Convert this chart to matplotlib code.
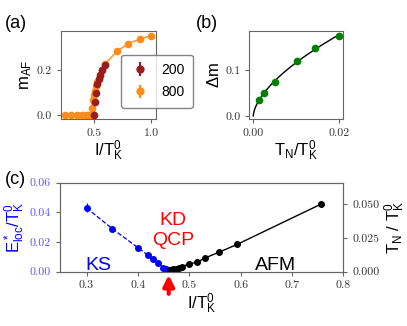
import numpy as np
import matplotlib
matplotlib.use("Agg")
import matplotlib.pyplot as plt

plt.rcParams['font.family'] = ['Liberation Sans', 'DejaVu Sans']
plt.rcParams['mathtext.fontset'] = 'custom'
plt.rcParams['mathtext.rm'] = 'Liberation Sans'
plt.rcParams['mathtext.it'] = 'Liberation Sans:italic'
plt.rcParams['mathtext.bf'] = 'Liberation Sans:bold'
plt.rcParams['axes.formatter.use_mathtext'] = True

# panel (a): order parameter vs I/TK0 for two sizes
a_x_200 = [0.505, 0.51, 0.515, 0.53, 0.545, 0.555, 0.57, 0.60]
a_y_200 = [0.0, 0.06, 0.10, 0.14, 0.16, 0.18, 0.20, 0.225]
a_x_800 = [0.25, 0.30, 0.35, 0.40, 0.43, 0.45, 0.47, 0.48, 0.49, 0.50,
           0.51, 0.52, 0.53, 0.55, 0.57, 0.60, 0.70, 0.80, 0.90, 1.00]
a_y_800 = [0.0, 0.0, 0.0, 0.0, 0.0, 0.0, 0.002, 0.035, 0.068, 0.09,
           0.11, 0.13, 0.15, 0.175, 0.20, 0.23, 0.285, 0.32, 0.34, 0.355]

# panel (b): jump of m vs TN/TK0
b_tn = [0.00133, 0.00256, 0.00505, 0.0101, 0.01435, 0.020]
b_dm = [0.035, 0.051, 0.075, 0.121, 0.149, 0.175]

# panel (c): Eloc* (left, KS side) and TN (right, AFM side)
c_x_ks = [0.30, 0.35, 0.40, 0.42, 0.43, 0.44, 0.449, 0.455, 0.46]
c_e_ks = [0.043, 0.029, 0.0162, 0.011, 0.0084, 0.0057, 0.0027, 0.0016, 0.001]
c_e_err = [0.003, 0, 0, 0, 0, 0, 0, 0, 0]
c_x_afm = [0.462, 0.468, 0.475, 0.481, 0.486, 0.499, 0.515, 0.531, 0.557, 0.593, 0.756]
c_tn_afm = [0.0013, 0.0018, 0.002, 0.003, 0.0037, 0.0057, 0.007, 0.0102, 0.0143, 0.0202, 0.050]
qcp_x = 0.46

tick_font = 'cmr10'
frame_col = '#666666'
col200 = '#9b1c1c'
col800 = '#ff8c1a'


def style(ax):
    for s in ax.spines.values():
        s.set_color(frame_col)
    ax.tick_params(colors=frame_col, labelsize=8.5, length=3, width=0.8)
    for lab in ax.get_xticklabels() + ax.get_yticklabels():
        lab.set_fontfamily(tick_font)
        lab.set_color('#333333')


fig = plt.figure(figsize=(4.07, 3.26), dpi=100)

# ---- (a)
ax1 = fig.add_axes([0.150, 0.635, 0.233, 0.270])
ax1.plot(a_x_800, a_y_800, color=col800, lw=1, zorder=1)
ax1.plot(a_x_200, a_y_200, color=col200, lw=1, zorder=2)
ax1.errorbar(a_x_200, a_y_200, yerr=0.005, color=col200, marker='o', ms=4.5,
             ls='none', label='200', zorder=3)
ax1.errorbar(a_x_800, a_y_800, yerr=0.004, color=col800, marker='o', ms=4.5,
             ls='none', label='800', zorder=2)
ax1.set_xlim(0.215, 1.04)
ax1.set_ylim(-0.016, 0.376)
ax1.set_xticks([0.5, 1.0])
ax1.set_yticks([0.0, 0.2])
ax1.set_xticklabels(['0.5', '1.0'])
ax1.set_yticklabels(['0.0', '0.2'])
ax1.set_xlabel(r'I/T$_\mathrm{K}^\mathrm{0}$', fontsize=12, labelpad=1)
ax1.set_ylabel(r'm$_\mathrm{AF}$', fontsize=12, labelpad=2)
style(ax1)
leg = ax1.legend(loc='lower left', bbox_to_anchor=(0.56, 0.05), fontsize=10,
                 frameon=True, handlelength=1.5, borderpad=0.6, labelspacing=0.6,
                 markerscale=1.1)
leg.get_frame().set_edgecolor(frame_col)
fig.text(0.012, 0.955, '(a)', fontsize=13, va='top')

# ---- (b)
ax2 = fig.add_axes([0.6125, 0.635, 0.231, 0.271])
# power-law fit through the points
p = np.polyfit(np.log(b_tn), np.log(b_dm), 1)
tfit = np.linspace(0, 0.02, 200)
ax2.plot(tfit, np.exp(p[1]) * tfit ** p[0], color='black', lw=1)
ax2.plot(b_tn, b_dm, 'o', color='green', ms=4.5)
ax2.set_xlim(-0.00093, 0.02093)
ax2.set_ylim(-0.0066, 0.187)
ax2.set_xticks([0.0, 0.02])
ax2.set_xticklabels(['0.00', '0.02'])
ax2.set_yticks([0.0, 0.1])
ax2.set_yticklabels(['0.0', '0.1'])
ax2.set_xlabel(r'T$_\mathrm{N}$/T$_\mathrm{K}^\mathrm{0}$', fontsize=12, labelpad=1)
ax2.set_ylabel(r'$\Delta$m', fontsize=12, labelpad=2)
style(ax2)
fig.text(0.482, 0.955, '(b)', fontsize=13, va='top')

# ---- (c)
ax3 = fig.add_axes([0.147, 0.1666, 0.6965, 0.273])
ax3.errorbar(c_x_ks, c_e_ks, yerr=c_e_err, color='blue', marker='o', ms=4,
             lw=0.9, ls='--', capsize=0)
ax3.set_xlim(0.248, 0.8)
ax3.set_ylim(0, 0.06)
ax3.set_xticks([0.3, 0.4, 0.5, 0.6, 0.7, 0.8])
ax3.set_xticklabels(['0.3', '0.4', '0.5', '0.6', '0.7', '0.8'])
ax3.set_yticks([0.0, 0.02, 0.04, 0.06])
ax3.set_yticklabels(['0.00', '0.02', '0.04', '0.06'])
ax3.set_xlabel(r'I/T$_\mathrm{K}^\mathrm{0}$', fontsize=12, labelpad=1)
ax3.set_ylabel(r'E$^*_\mathrm{loc}$/T$_\mathrm{K}^\mathrm{0}$', fontsize=12,
               color='blue', labelpad=2)
style(ax3)
for lab in ax3.get_yticklabels():
    lab.set_color('#5555ff')

ax4 = ax3.twinx()
ax4.plot(c_x_afm, c_tn_afm, 'o-', color='black', ms=4, lw=1)
ax4.set_ylim(0, 0.066)
ax4.set_yticks([0.0, 0.025, 0.05])
ax4.set_yticklabels(['0.000', '0.025', '0.050'])
ax4.set_ylabel(r'T$_\mathrm{N}$ / T$_\mathrm{K}^\mathrm{0}$', fontsize=12, labelpad=2)
style(ax4)

ax3.text(0.323, 0.001, 'KS', color='blue', fontsize=14, ha='center', va='baseline')
ax3.text(0.468, 0.0315, 'KD', color='red', fontsize=14, ha='center', va='baseline')
ax3.text(0.468, 0.0182, 'QCP', color='red', fontsize=14, ha='center', va='baseline')
ax3.text(0.668, 0.001, 'AFM', color='black', fontsize=14, ha='center', va='baseline')
ax3.annotate('', xy=(qcp_x, -0.0003), xytext=(qcp_x, -0.0168),
             arrowprops=dict(arrowstyle='-|>', color='red', lw=3, mutation_scale=16),
             annotation_clip=False)
fig.text(0.012, 0.475, '(c)', fontsize=13, va='top')

fig.savefig('out.png', dpi=100)
